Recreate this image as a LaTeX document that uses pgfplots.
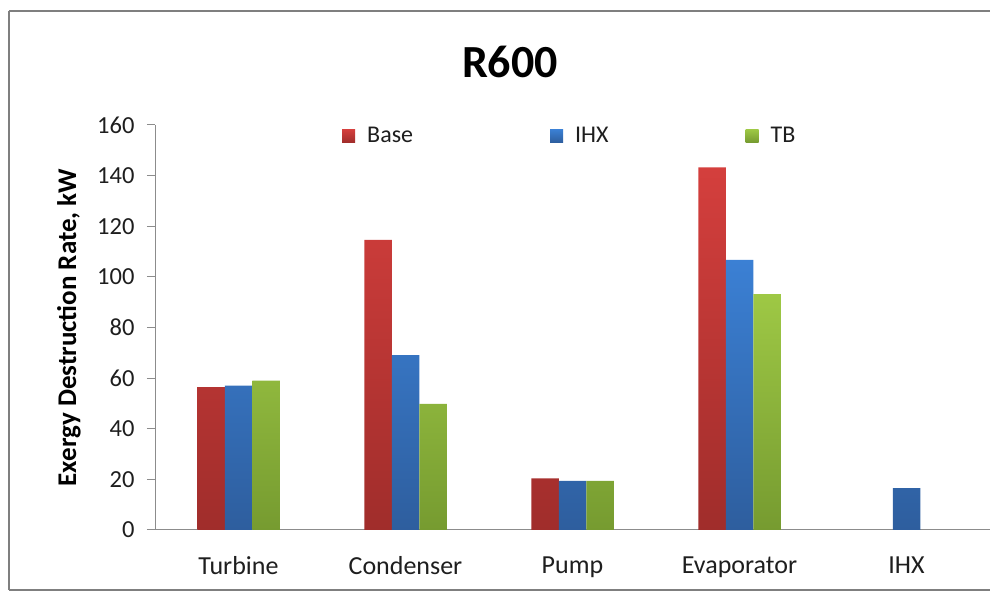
\documentclass[border=0pt]{standalone}
\usepackage{pgfplots}
\pgfplotsset{compat=1.18}
\usepackage{fontspec}
\setmainfont{Carlito}
\definecolor{redtop}{HTML}{D43F3D}
\definecolor{redbot}{HTML}{A02D2B}
\definecolor{bluetop}{HTML}{3B80D4}
\definecolor{bluebot}{HTML}{2E5E9E}
\definecolor{greentop}{HTML}{9EC845}
\definecolor{greenbot}{HTML}{769B30}
\definecolor{axisgray}{HTML}{8C8C8C}
\definecolor{framegray}{HTML}{7F7F7F}
\definecolor{txt}{HTML}{1E1E1E}
\begin{document}
\begin{tikzpicture}
\useasboundingbox (0pt,0pt) rectangle (999pt,593pt);
\draw[color=framegray, line width=2.5pt] (9pt,582pt) -- (9pt,3pt);
\draw[color=framegray, line width=2.5pt] (9pt,582pt) -- (990pt,582pt);
\draw[color=framegray, line width=2.5pt] (9pt,3pt) -- (990pt,3pt);
\node[font=\fontsize{46}{50}\selectfont\bfseries, text=black] at (510pt,531pt) {R600};
\begin{axis}[
  at={(155pt,63pt)}, anchor=south west,
  scale only axis, width=835pt, height=405pt,
  xmin=-0.5, xmax=4.5, ymin=0, ymax=160,
  ytick={0,20,...,160},
  xtick={0,1,2,3,4},
  xticklabels={Turbine,Condenser,Pump,Evaporator,IHX},
  axis x line=bottom, axis y line=left,
  axis line style={draw=axisgray, line width=1pt, -},
  xtick style={draw=none},
  ytick style={draw=axisgray, line width=1pt},
  tick align=outside, major tick length=8pt,
  /pgf/number format/assume math mode=true,
  yticklabel style={font=\fontsize{24.5}{28}\selectfont, text=txt, xshift=-9pt},
  xticklabel style={font=\fontsize{26}{30}\selectfont, text=txt, yshift=-15pt},
  ylabel={Exergy Destruction Rate, kW},
  every axis y label/.style={at={(axis description cs:0,0.5)}, xshift=-86pt, rotate=90, anchor=center, font=\fontsize{27}{30}\selectfont\bfseries, text=black},
  ybar=0pt, bar width=27.5pt,
  legend columns=3,
  legend style={at={(axis description cs:0.224,0.973)}, anchor=west, draw=none, fill=none, inner sep=0pt,
    font=\fontsize{24}{28}\selectfont, text=txt,
    /tikz/every odd column/.append style={column sep=10pt},
    /tikz/every even column/.append style={column sep=135pt}},
  legend image code/.code={\path[#1] (0pt,-6.5pt) rectangle (13pt,6.5pt);},
]
\addplot[draw=none, top color=redtop, bottom color=redbot] coordinates {(0,56.4) (1,114.6) (2,20.4) (3,143.3)};
\addlegendentry{Base}
\addplot[draw=none, top color=bluetop, bottom color=bluebot] coordinates {(0,57.0) (1,69.1) (2,19.4) (3,106.7) (4,16.5)};
\addlegendentry{IHX}
\addplot[draw=none, top color=greentop, bottom color=greenbot] coordinates {(0,59.0) (1,49.8) (2,19.4) (3,93.2)};
\addlegendentry{TB}
\end{axis}
\end{tikzpicture}
\end{document}
